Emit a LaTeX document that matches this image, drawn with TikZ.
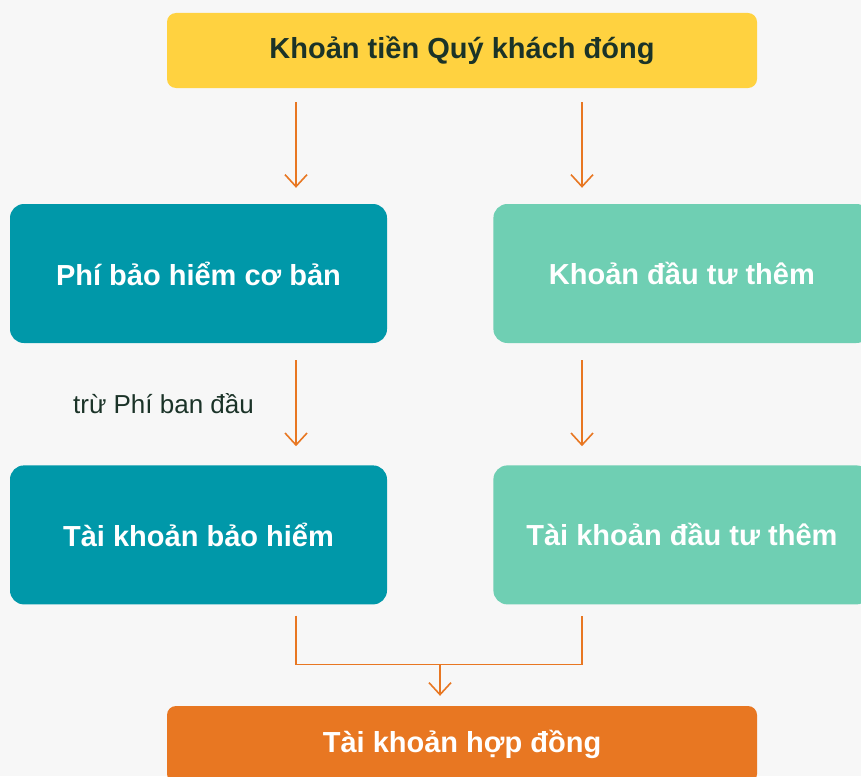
\documentclass[tikz,border=0pt]{standalone}
\usepackage{fontspec}
\setmainfont{Liberation Sans}
\usetikzlibrary{arrows.meta, positioning, calc}
\definecolor{myyellow}{HTML}{FFD240}
\definecolor{myteal}{HTML}{0098A9}
\definecolor{mymint}{HTML}{6FCFB3}
\definecolor{myorange}{HTML}{E87722}
\definecolor{mydark}{HTML}{1B3328}
\definecolor{mybg}{HTML}{F7F7F7}

\begin{document}
\begin{tikzpicture}[x=1pt, y=-1pt,
    box/.style={rectangle, rounded corners=14pt, minimum width=377pt, minimum height=139pt, inner sep=0pt, align=center, text=white, font=\fontsize{29}{34}\selectfont\bfseries},
    wide/.style={box, rounded corners=9pt, minimum width=590pt},
    arrow/.style={-{Straight Barb[length=12pt, width=22pt]}, line width=1.6pt, draw=myorange},
    link/.style={line width=1.6pt, draw=myorange}]
    \fill[mybg] (0,0) rectangle (861,776);
    \useasboundingbox (0,0) rectangle (861,776);
    \coordinate (lx) at (296,0);
    \coordinate (rx) at (582,0);
    \coordinate (mx) at (440,0);
    \node[wide, minimum height=75pt, fill=myyellow, text=mydark] (pay) at (462,50.5) {Khoản tiền Quý khách đóng};
    \node[box, fill=myteal] (basic) at (198.5,273.5) {Phí bảo hiểm cơ bản};
    \node[box, fill=mymint, right=106pt of basic] (extra) {Khoản đầu tư thêm};
    \node[box, fill=myteal, below=122pt of basic] (insacc) {Tài khoản bảo hiểm};
    \node[box, fill=mymint, below=122pt of extra] (extacc) {Tài khoản đầu tư thêm};
    \node[wide, minimum height=77pt, fill=myorange] (total) at (462,744.5) {Tài khoản hợp đồng};

    \draw[arrow] ([yshift=-14pt]pay.south -| lx) -- ([yshift=16pt]basic.north -| lx);
    \draw[arrow] ([yshift=-14pt]pay.south -| rx) -- ([yshift=16pt]extra.north -| rx);
    \draw[arrow] ([yshift=-17pt]basic.south -| lx) -- ([yshift=19pt]insacc.north -| lx)
        node[midway, left=38pt, text=mydark, font=\fontsize{26}{30}\selectfont] (fee) {trừ Phí ban đầu};
    \draw[arrow] ([yshift=-17pt]extra.south -| rx) -- ([yshift=19pt]extacc.north -| rx);
    \draw[link] ([yshift=-11pt]insacc.south -| lx) |- ([yshift=-60pt]extacc.south -| rx) -- ([yshift=-11pt]extacc.south -| rx);
    \draw[arrow] ([yshift=-60pt]insacc.south -| mx) -- ([yshift=10pt]total.north -| mx);
\end{tikzpicture}
\end{document}
